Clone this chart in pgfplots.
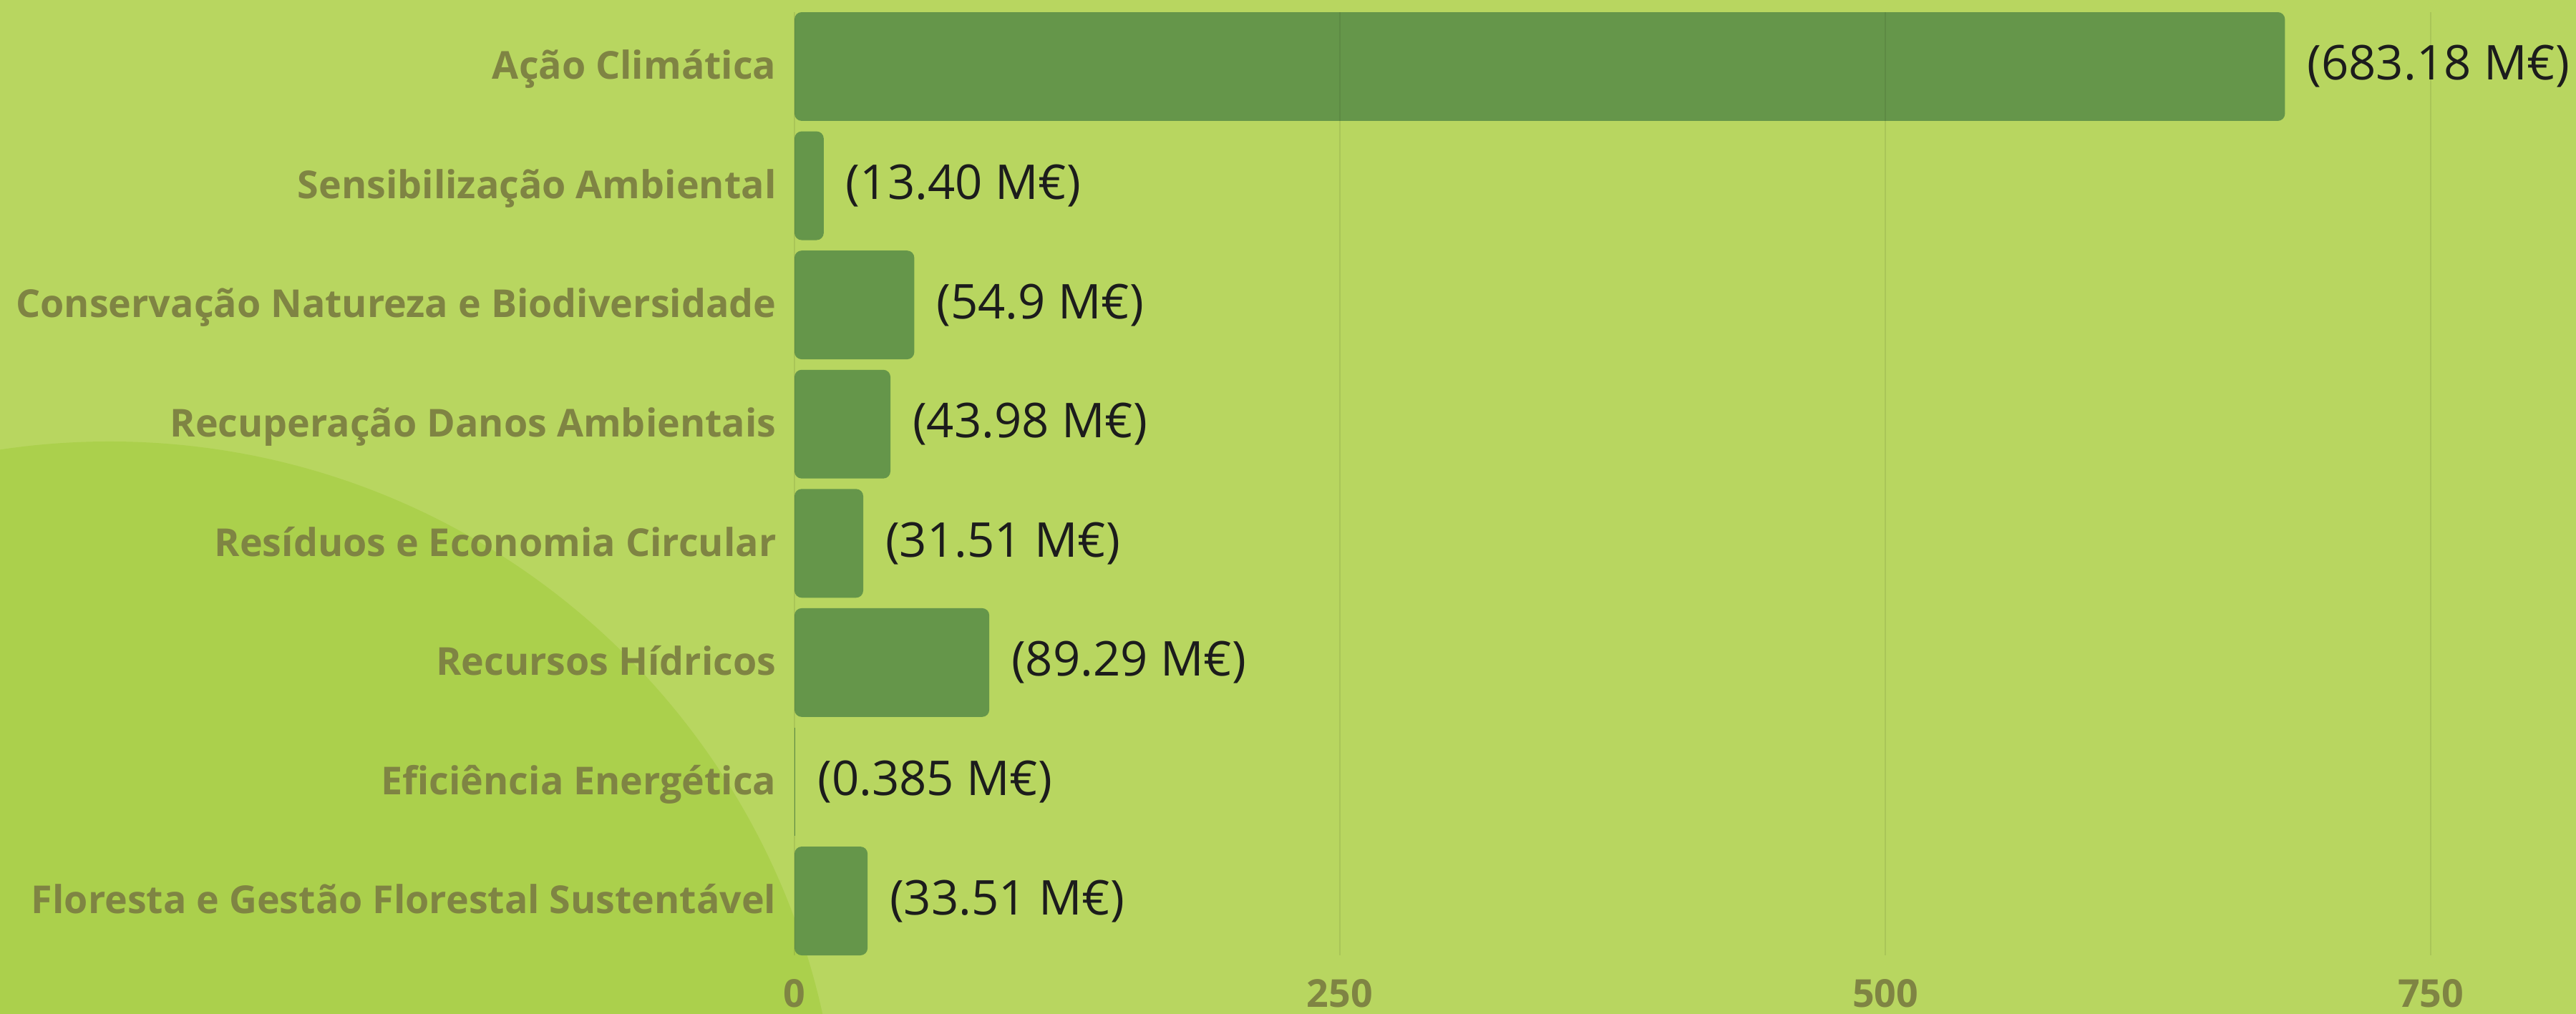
\documentclass[border=0pt]{standalone}
\usepackage{fontspec}
\setmainfont{Open Sans}
\usepackage{pgfplots}
\pgfplotsset{compat=1.18}
\definecolor{bg}{RGB}{184,214,96}
\definecolor{circ}{RGB}{171,208,76}
\definecolor{barc}{RGB}{101,150,74}
\definecolor{lab}{RGB}{127,132,67}
\definecolor{val}{RGB}{28,28,28}
\begin{document}
\begin{tikzpicture}[x=1pt,y=1pt]
\useasboundingbox (0,0) rectangle (719.8,283.4);
\fill[bg] (0,0) rectangle (719.8,283.4);
\begin{scope}
\clip (0,0) rectangle (719.8,283.4);
\fill[circ] (30.6,-44) circle [radius=204];
\end{scope}
\begin{axis}[
  at={(222pt,16.4pt)}, anchor=south west,
  scale only axis, width=497.8pt, height=263.6pt,
  xbar, bar width=0.912, bar shift=0pt, y dir=reverse,
  xmin=0, xmax=816.6, ymin=-0.456, ymax=7.456,
  ytick={0,...,7},
  yticklabels={Ação Climática, Sensibilização Ambiental, Conservação Natureza e Biodiversidade, Recuperação Danos Ambientais, Resíduos e Economia Circular, Recursos Hídricos, Eficiência Energética, Floresta e Gestão Florestal Sustentável},
  xtick={0,250,500,750},
  axis line style={draw=none}, major tick length=0pt,
  xmajorgrids, major grid style={black, opacity=0.08, line width=0.5pt},
  axis on top,
  /pgf/number format/assume math mode=true,
  yticklabel style={font=\bfseries\fontsize{10.75}{12}\selectfont, text=lab, inner sep=0pt, xshift=-4.9pt, text height=0.714em, text depth=0pt},
  xticklabel style={font=\bfseries\fontsize{10.75}{12}\selectfont, text=lab, inner sep=0pt, text height=0.714em, text depth=0pt, yshift=-7.2pt},
  point meta=explicit symbolic,
  nodes near coords={(\pgfplotspointmeta\ M€)},
  nodes near coords style={font=\fontsize{13.4}{15}\selectfont, text=val, anchor=west, inner sep=0pt, xshift=6pt},
  clip=false,
]
\addplot[fill=barc, draw=none, rounded corners=2pt] coordinates {
  (683.18,0) [683.18]
  (13.40,1) [13.40]
  (54.9,2) [54.9]
  (43.98,3) [43.98]
  (31.51,4) [31.51]
  (89.29,5) [89.29]
  (33.51,7) [33.51]
};
\addplot[fill=barc, draw=none] coordinates {
  (0.385,6) [0.385]
};
\end{axis}
\end{tikzpicture}
\end{document}
